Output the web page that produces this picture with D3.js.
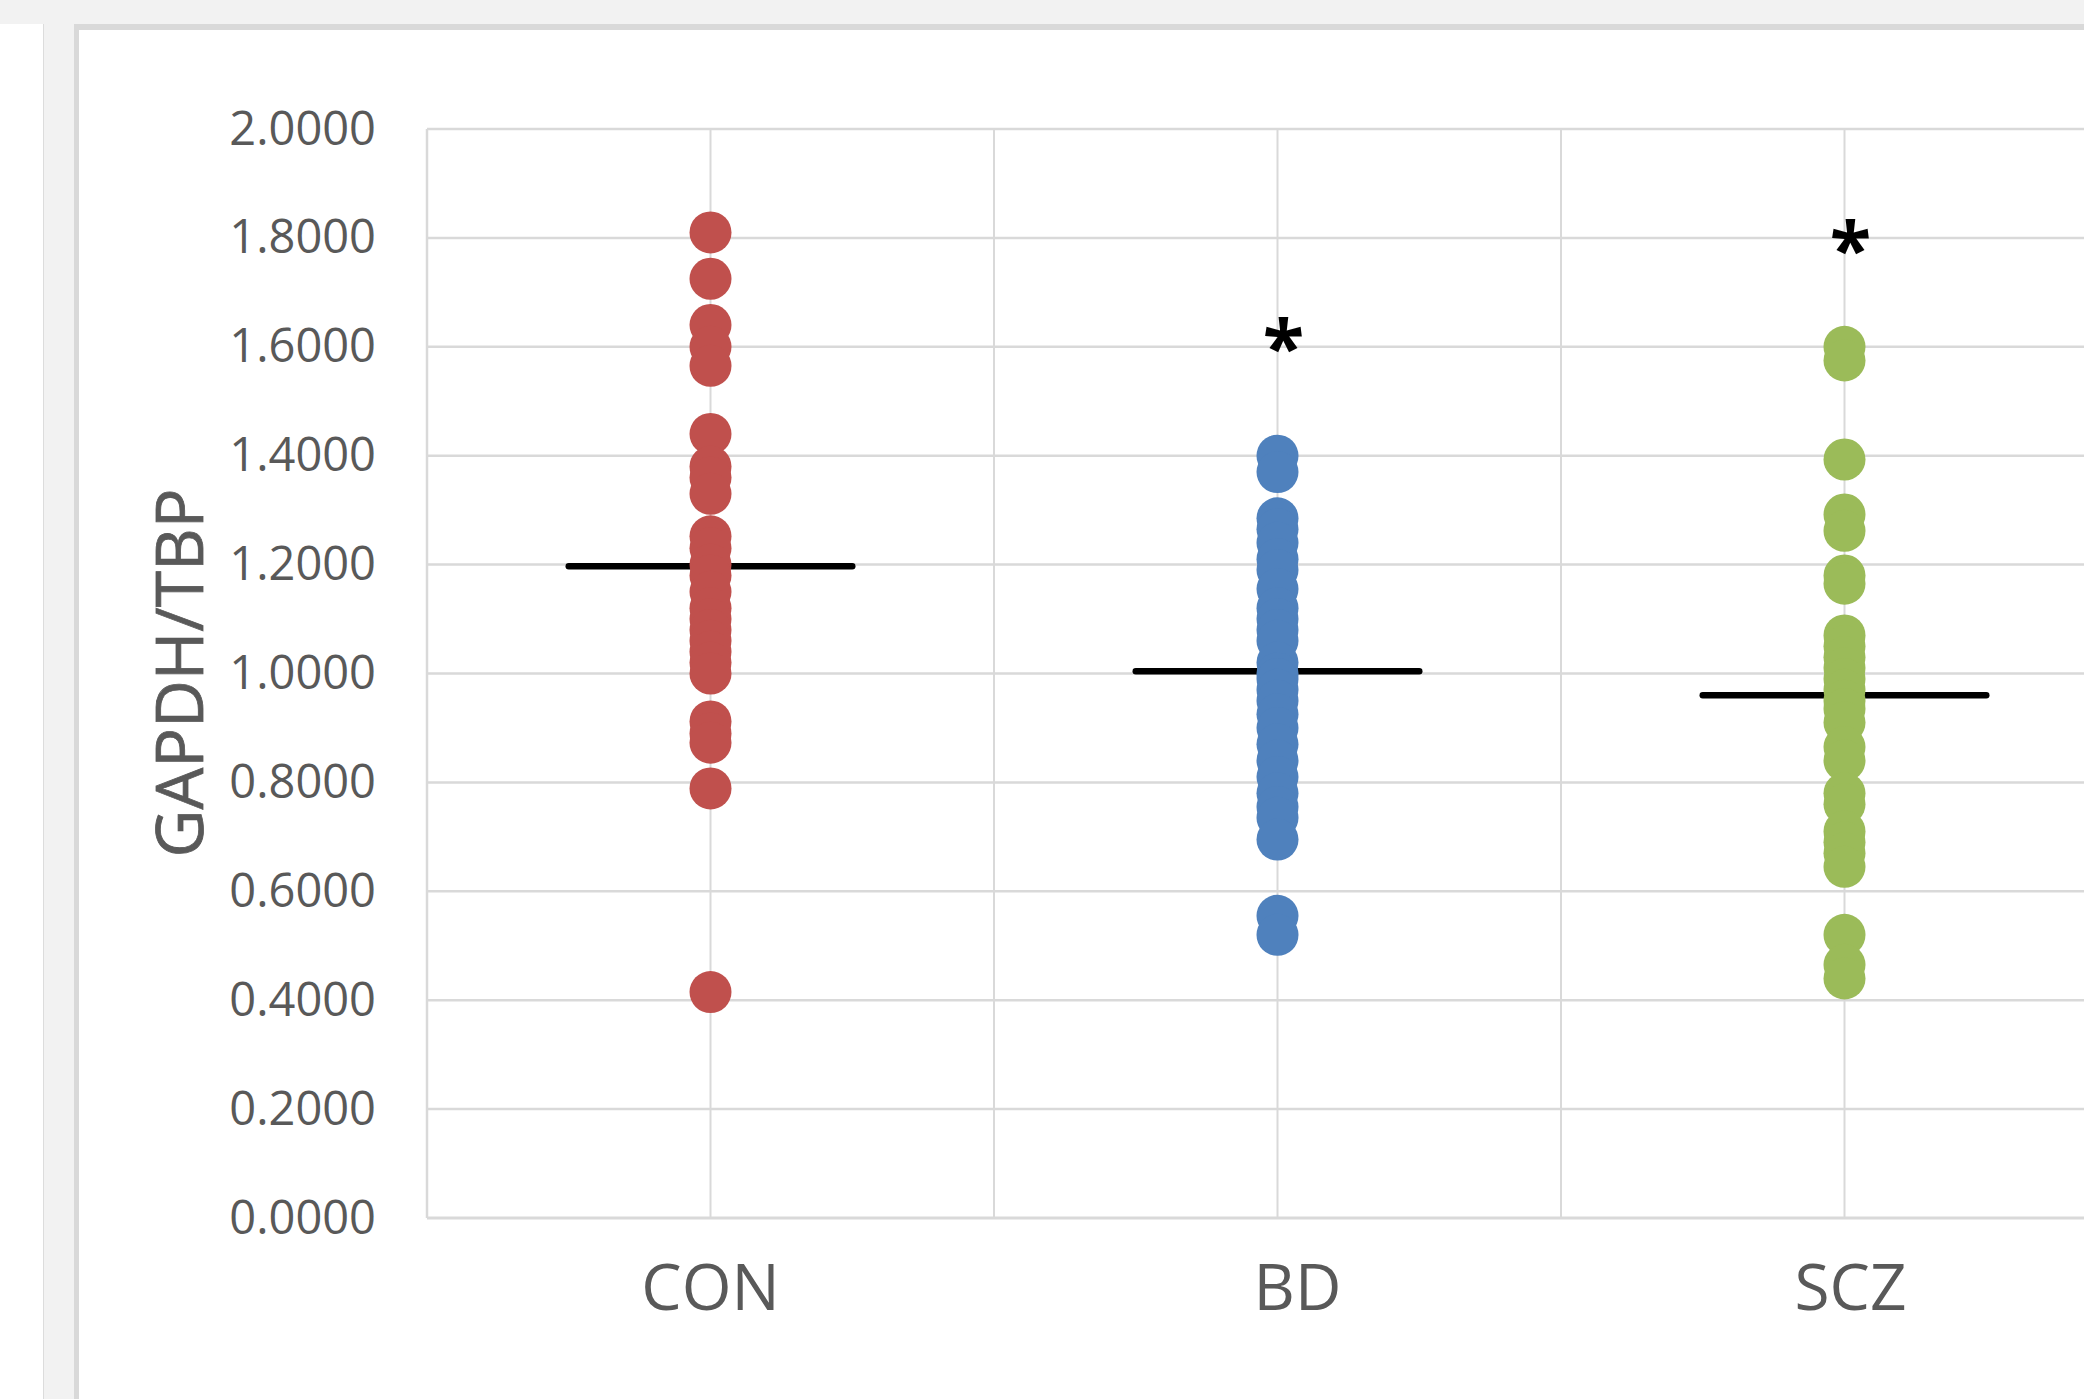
<!DOCTYPE html>
<html>
<head>
<meta charset="utf-8">
<script src="https://cdn.jsdelivr.net/npm/d3@7"></script>
<style>
  body { margin: 0; background: #ffffff; }
  svg { display: block; }
</style>
</head>
<body>
<div id="vis"></div>
<script>
// groups and where they sit on the hidden x axis (0..6)
let categories = ['CON', 'BD', 'SCZ']
let groupX = [1, 3, 5]
let colors = ['#C0504D', '#4F81BD', '#9BBB59']

// GAPDH/TBP values
let conValues = [1.81, 1.725, 1.64, 1.60, 1.565, 1.44, 1.38, 1.36, 1.33, 1.252, 1.23, 1.20, 1.18,
  1.15, 1.12, 1.10, 1.08, 1.06, 1.04, 1.02, 1.00, 0.912, 0.89, 0.873, 0.789, 0.415]
let bdValues = [1.40, 1.37, 1.285, 1.265, 1.24, 1.21, 1.19, 1.155, 1.12, 1.10, 1.08, 1.06, 1.02, 1.00,
  0.99, 0.97, 0.95, 0.925, 0.90, 0.87, 0.84, 0.81, 0.78, 0.755, 0.735, 0.695, 0.555, 0.52]
let sczValues = [1.60, 1.575, 1.393, 1.292, 1.262, 1.18, 1.165, 1.07, 1.05, 1.03, 1.01, 0.99, 0.97,
  0.95, 0.935, 0.91, 0.865, 0.84, 0.78, 0.76, 0.71, 0.69, 0.67, 0.645, 0.52, 0.465, 0.44]
let groupMeans = [1.197, 1.004, 0.96]

// significance stars and their height
let stars = ['', '*', '*']
let starY = [null, 1.62, 1.80]

let yTicks = [0, 0.2, 0.4, 0.6, 0.8, 1.0, 1.2, 1.4, 1.6, 1.8, 2.0]
let xGrid = [1, 2, 3, 4, 5, 6]
let yTitle = 'GAPDH/TBP'

let width = 2084, height = 1399

let svg = d3.select('#vis')
  .append('svg')
  .attr('width', width)
  .attr('height', height)
  .style('background-color', 'white')

// window chrome around the chart
svg.append('rect').attr('x', 0).attr('y', 0).attr('width', width).attr('height', 24).attr('fill', '#f2f2f2')
svg.append('rect').attr('x', 43).attr('y', 24).attr('width', 31).attr('height', height).attr('fill', '#f2f2f2')
svg.append('rect').attr('x', 43).attr('y', 24).attr('width', 1).attr('height', height).attr('fill', '#dcdcdc')
svg.append('rect').attr('x', 74).attr('y', 24).attr('width', width).attr('height', 6).attr('fill', '#d9d9d9')
svg.append('rect').attr('x', 74).attr('y', 24).attr('width', 5).attr('height', height).attr('fill', '#d9d9d9')

let x = d3.scaleLinear().domain([0, 6]).range([427, 2128])
let y = d3.scaleLinear().domain([0, 2]).range([1218, 129])

let grid = svg.append('g')

grid.selectAll('.hgrid')
  .data(yTicks.slice(1))
  .join('line')
  .attr('x1', x(0)).attr('x2', x(6))
  .attr('y1', d => y(d)).attr('y2', d => y(d))
  .attr('stroke', '#d9d9d9')
  .attr('stroke-width', 2.5)

grid.selectAll('.vgrid')
  .data(xGrid)
  .join('line')
  .attr('x1', d => x(d)).attr('x2', d => x(d))
  .attr('y1', y(2)).attr('y2', y(0))
  .attr('stroke', '#d9d9d9')
  .attr('stroke-width', 2)

// axis lines
svg.append('line')
  .attr('x1', x(0)).attr('x2', x(0))
  .attr('y1', y(2)).attr('y2', y(0))
  .attr('stroke', '#d9d9d9').attr('stroke-width', 2.5)
svg.append('line')
  .attr('x1', x(0)).attr('x2', x(6))
  .attr('y1', y(0)).attr('y2', y(0))
  .attr('stroke', '#d9d9d9').attr('stroke-width', 3)

// y tick labels
let yAxis = d3.axisLeft(y).tickValues(yTicks).tickFormat(d3.format('.4f')).tickSize(0).tickPadding(51)
svg.append('g')
  .attr('transform', 'translate(' + x(0) + ',0)')
  .call(yAxis)
  .call(g => g.select('.domain').remove())
  .selectAll('text')
  .attr('font-family', '"Open Sans", sans-serif')
  .attr('font-size', 47)
  .attr('fill', '#595959')

// y title
svg.append('text')
  .attr('transform', 'translate(177,673) rotate(-90)')
  .attr('text-anchor', 'middle')
  .attr('dominant-baseline', 'central')
  .attr('font-family', '"Open Sans", sans-serif')
  .attr('font-size', 66)
  .attr('fill', '#595959')
  .attr('stroke', '#595959')
  .attr('stroke-width', 0.8)
  .text(yTitle)

// category labels
svg.selectAll('.cat')
  .data(categories)
  .join('text')
  .attr('x', (d, i) => x(groupX[i]) + [0, 20, 6][i])
  .attr('y', 1285)
  .attr('text-anchor', 'middle')
  .attr('dominant-baseline', 'central')
  .attr('font-family', '"Open Sans", sans-serif')
  .attr('font-size', 64)
  .attr('fill', '#595959')
  .text(d => d)

// mean lines sit under the dots
svg.selectAll('.mean')
  .data(groupMeans)
  .join('line')
  .attr('x1', (d, i) => x(groupX[i] - 0.5))
  .attr('x2', (d, i) => x(groupX[i] + 0.5))
  .attr('y1', d => y(d)).attr('y2', d => y(d))
  .attr('stroke', '#000000')
  .attr('stroke-width', 6.5)
  .attr('stroke-linecap', 'round')

let series = [conValues, bdValues, sczValues]
series.forEach(function (vals, i) {
  svg.append('g')
    .selectAll('circle')
    .data(vals)
    .join('circle')
    .attr('cx', x(groupX[i]))
    .attr('cy', d => y(d))
    .attr('r', 21)
    .attr('fill', colors[i])
})

// stars
let starData = stars.map((s, i) => ({ s: s, gx: groupX[i], v: starY[i] })).filter(d => d.s !== '')
svg.selectAll('.star')
  .data(starData)
  .join('text')
  .attr('x', d => x(d.gx) + 6)
  .attr('y', d => y(d.v) + 38)
  .attr('text-anchor', 'middle')
  .attr('font-family', '"Open Sans", sans-serif')
  .attr('font-weight', 'bold')
  .attr('font-size', 76)
  .attr('fill', '#000000')
  .text(d => d.s)
</script>
</body>
</html>
